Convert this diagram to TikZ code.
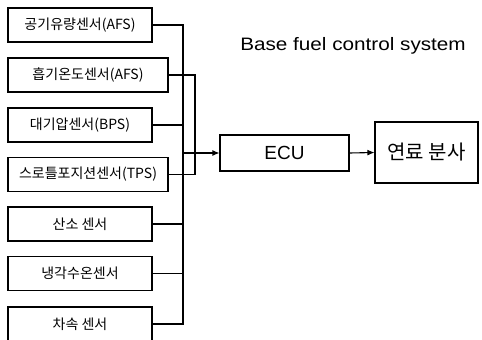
\documentclass[tikz,border=0pt]{standalone}
\usepackage{fontspec}
\setmainfont{Noto Sans CJK KR}
\newfontfamily\latinfont{Liberation Sans}
\newfontfamily\titlefont[FakeStretch=1.15]{Liberation Sans}
\usetikzlibrary{arrows.meta, positioning}
\tikzstyle{sensor} = [
  rectangle, draw, line width=1.1pt, inner sep=0pt,
  minimum width=144pt, minimum height=34pt,
  font=\fontsize{14}{16}\selectfont
]
\tikzstyle{widesensor} = [sensor, minimum width=160pt]
\tikzstyle{unit} = [rectangle, draw, line width=1.1pt, inner sep=0pt]
\tikzstyle{wire} = [line width=1.1pt]
\tikzstyle{arrow} = [-{Latex[length=7pt, width=6pt]}, line width=1.1pt]

\begin{document}
\begin{tikzpicture}[x=1pt, y=-1pt]
  \useasboundingbox (0,0) rectangle (482,340);
  \clip (0,0) rectangle (482,340);

  \node[sensor] (afs) at (80, 25) {공기유량센서(AFS)};
  \node[widesensor] (ats) at (88, 75) {흡기온도센서(AFS)};
  \node[sensor] (bps) at (80, 125) {대기압센서(BPS)};
  \node[widesensor] (tps) at (88, 174.5) {스로틀포지션센서(TPS)};
  \node[sensor] (o2) at (80, 224) {산소 센서};
  \node[sensor] (wts) at (80, 273.5) {냉각수온센서};
  \node[sensor] (vss) at (80, 324) {차속 센서};

  \node[unit, minimum width=129pt, minimum height=36pt,
        font=\latinfont\fontsize{19}{22}\selectfont] (ecu) at (284.5, 153) {ECU};
  \node[unit, minimum width=103pt, minimum height=61pt,
        font=\fontsize{20}{24}\selectfont] (fuel) at (426.5, 152.5) {연료 분사};
  \node[font=\titlefont\fontsize{18}{22}\selectfont, anchor=base] (title)
    at (353, 50) {Base fuel control system};

  \coordinate (busA) at (183, 0);
  \coordinate (busB) at (195, 0);

  \draw[wire] (afs.east) -- (afs.east -| busA) -- (vss.east -| busA) -- (vss.east);
  \foreach \s in {bps, o2, wts}
    \draw[wire] (\s.east) -- (\s.east -| busA);
  \draw[wire] (ats.east) -- (ats.east -| busB) -- (tps.east -| busB) -- (tps.east);

  \draw[arrow] (ecu.west -| busA) -- (ecu.west);
  \draw[arrow] (ecu.east) -- (fuel.west);

\end{tikzpicture}
\end{document}
